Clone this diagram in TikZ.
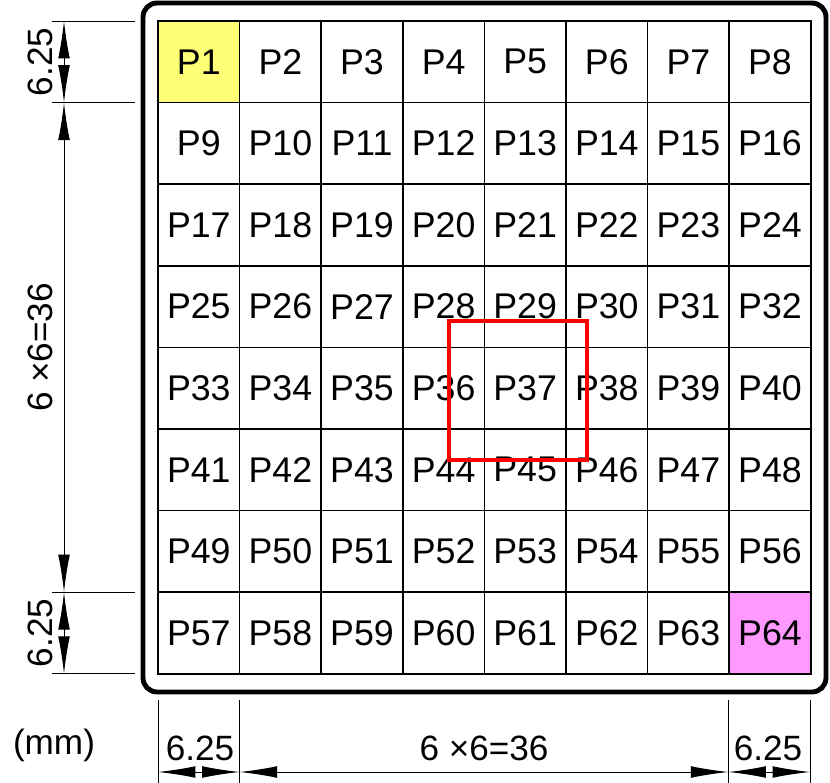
\documentclass[tikz,border=0pt]{standalone}
\usepackage{fontspec}
\setmainfont{Liberation Sans}
\usetikzlibrary{arrows.meta}
\definecolor{pinkcell}{RGB}{255,153,255}
\definecolor{yellowcell}{RGB}{255,255,119}
\tikzstyle{cell}=[draw=black,line width=1.5pt,minimum size=81.6*0.03cm,inner sep=0pt,font=\fontsize{30.5}{33}\selectfont]
\tikzstyle{dim}=[line width=0.85pt,{Latex[length=32pt,width=10pt]}-{Latex[length=32pt,width=10pt]}]
\tikzstyle{ext}=[line width=0.85pt]
\tikzstyle{lbl}=[font=\fontsize{30}{33}\selectfont,inner sep=0pt]
\begin{document}
\begin{tikzpicture}[x=0.03cm,y=-0.03cm]
\useasboundingbox (0,0) rectangle (830,783);
\draw[line width=4.2pt,rounded corners=12] (143,3) rectangle (826,692);
\foreach \r in {0,...,7}
  \foreach \c in {0,...,7} {
    \pgfmathtruncatemacro{\n}{\r*8+\c+1}
    \node[cell] (p\n) at ({158+40.8+81.6*\c},{21+40.8+81.6*\r}) {P\n};
  }
\node[cell,fill=yellowcell] at (p1) {P1};
\node[cell,fill=pinkcell] at (p64) {P64};
\draw[red,line width=3.4pt] (449,321) rectangle (587,460);
% left dimensions
\foreach \y/\k in {21/a,102.6/b,592.2/c,673.8/d} {
  \coordinate (l\k) at (64,\y);
  \draw[ext] (52,\y) -- (135,\y);
}
\draw[dim] (la) -- (lb);
\draw[dim] (lb) -- (lc);
\draw[dim] (lc) -- (ld);
\node[lbl,rotate=90] at (40,61.8) {6.25};
\node[lbl,rotate=90] at (40,347.4) {6 ×6=36};
\node[lbl,rotate=90] at (40,633) {6.25};
% bottom dimensions
\foreach \x/\k in {158/a,239.6/b,728.4/c,810/d} {
  \coordinate (b\k) at (\x,772);
  \draw[ext] (\x,700) -- (\x,783);
}
\draw[dim] (ba) -- (bb);
\draw[dim] (bb) -- (bc);
\draw[dim] (bc) -- (bd);
\node[lbl] at (200,748) {6.25};
\node[lbl] at (484,748) {6 ×6=36};
\node[lbl] at (768,748) {6.25};
\node[lbl] at (54,745) {(mm)};
\end{tikzpicture}
\end{document}
